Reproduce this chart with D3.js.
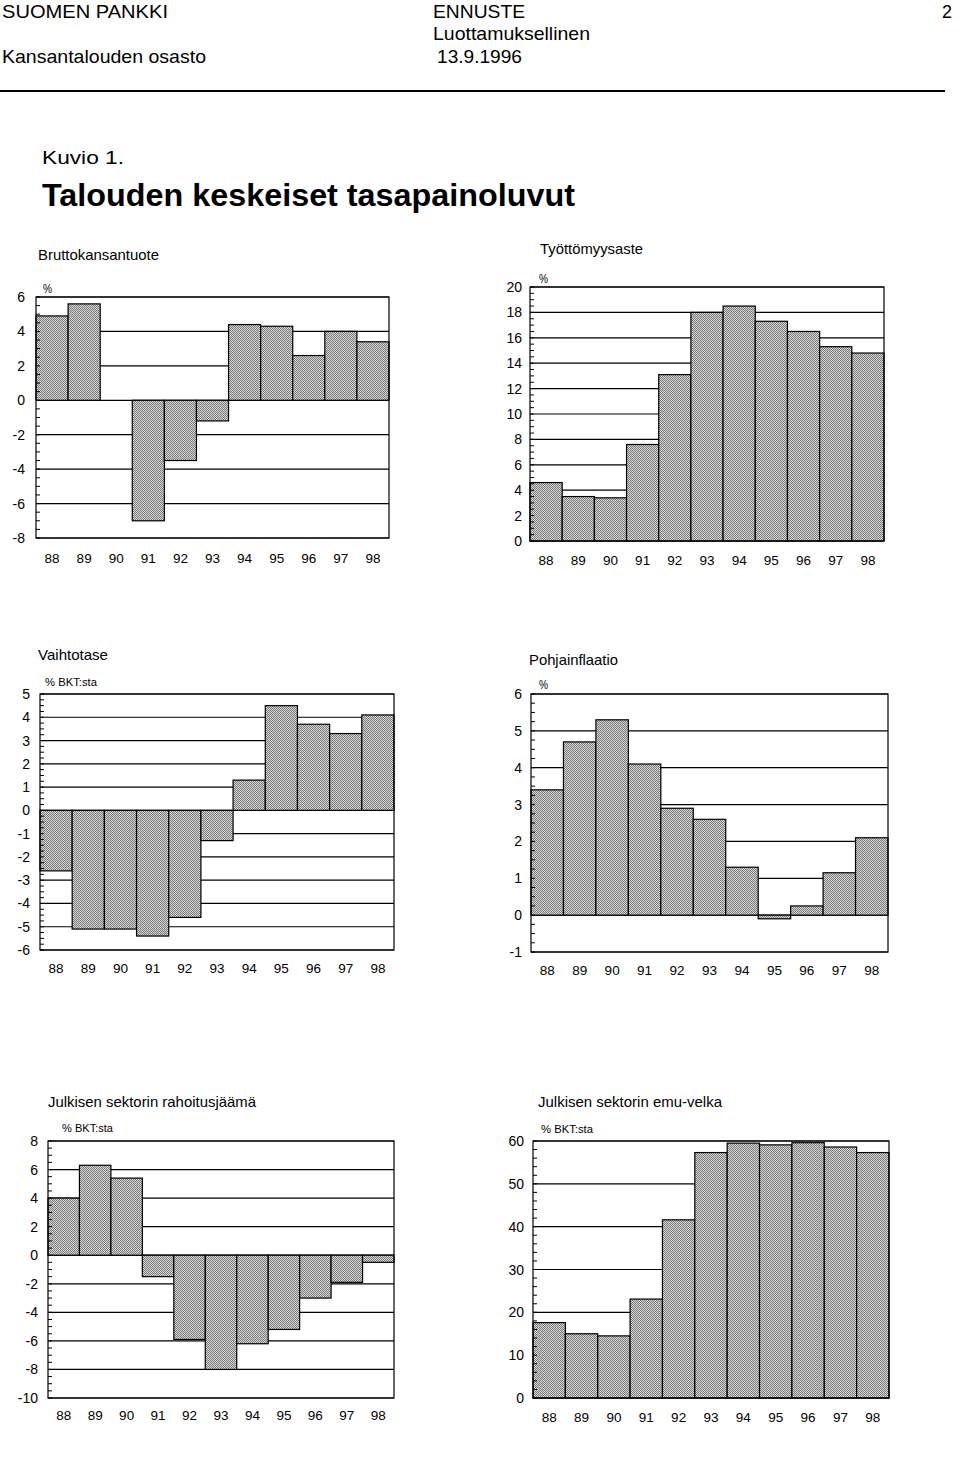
<!DOCTYPE html>
<html><head><meta charset="utf-8">
<script src="https://cdn.jsdelivr.net/npm/d3@7"></script>
<style>
body{margin:0;background:#fff;}
svg{display:block;font-family:"Liberation Sans",Arial,Helvetica,sans-serif;}
</style></head>
<body>
<script>
// ---- data ----
const years = ["88","89","90","91","92","93","94","95","96","97","98"];
const bktValues = [4.9, 5.6, 0.0, -7.0, -3.5, -1.2, 4.4, 4.3, 2.6, 4.0, 3.4];
const unemploymentValues = [4.6, 3.5, 3.4, 7.6, 13.1, 18.0, 18.5, 17.3, 16.5, 15.3, 14.8];
const currentAccountValues = [-2.6, -5.1, -5.1, -5.4, -4.6, -1.3, 1.3, 4.5, 3.7, 3.3, 4.1];
const inflationValues = [3.4, 4.7, 5.3, 4.1, 2.9, 2.6, 1.3, -0.1, 0.25, 1.15, 2.1];
const balanceValues = [4.0, 6.3, 5.4, -1.5, -5.9, -8.0, -6.2, -5.2, -3.0, -1.9, -0.5];
const debtValues = [17.6, 15.0, 14.5, 23.1, 41.6, 57.3, 59.5, 59.1, 59.6, 58.6, 57.3];

const bktTicks = [6, 4, 2, 0, -2, -4, -6, -8];
const unemploymentTicks = [20, 18, 16, 14, 12, 10, 8, 6, 4, 2, 0];
const currentAccountTicks = [5, 4, 3, 2, 1, 0, -1, -2, -3, -4, -5, -6];
const inflationTicks = [6, 5, 4, 3, 2, 1, 0, -1];
const balanceTicks = [8, 6, 4, 2, 0, -2, -4, -6, -8, -10];
const debtTicks = [60, 50, 40, 30, 20, 10, 0];

const headerTexts = ["SUOMEN PANKKI", "ENNUSTE", "2", "Luottamuksellinen", "Kansantalouden osasto", "13.9.1996"];
const figureLabel = "Kuvio 1.";
const figureTitle = "Talouden keskeiset tasapainoluvut";
const panelTitles = ["Bruttokansantuote", "Työttömyysaste", "Vaihtotase", "Pohjainflaatio",
  "Julkisen sektorin rahoitusjäämä", "Julkisen sektorin emu-velka"];
const unitLabels = ["%", "%", "% BKT:sta", "%", "% BKT:sta", "% BKT:sta"];

// ---- drawing ----
const W = 960, H = 1474;
const svg = d3.select("body").append("svg").attr("width", W).attr("height", H);

// halftone (checkerboard) pattern
const defs = svg.append("defs");
const pat = defs.append("pattern").attr("id", "tone").attr("patternUnits", "userSpaceOnUse")
  .attr("width", 2).attr("height", 2);
pat.append("rect").attr("width", 2).attr("height", 2).attr("fill", "#d6d6d6");
pat.append("rect").attr("width", 1).attr("height", 1).attr("fill", "#7a7a7a");
pat.append("rect").attr("x", 1).attr("y", 1).attr("width", 1).attr("height", 1).attr("fill", "#7a7a7a");

function txt(s, x, y, size, opts = {}) {
  const t = svg.append("text").attr("x", x).attr("y", y).attr("font-size", size)
    .attr("fill", "#000").text(s);
  if (opts.weight) t.attr("font-weight", opts.weight);
  if (opts.len) t.attr("textLength", opts.len).attr("lengthAdjust", "spacingAndGlyphs");
  if (opts.anchor) t.attr("text-anchor", opts.anchor);
  return t;
}

// header
txt(headerTexts[0], 2, 18, 19, {len: 166});
txt(headerTexts[1], 433, 18, 19, {len: 92});
txt(headerTexts[2], 942, 18, 19, {len: 10});
txt(headerTexts[3], 433, 40, 19, {len: 157});
txt(headerTexts[4], 2, 63, 19, {len: 204});
txt(headerTexts[5], 437, 63, 19, {len: 85});
svg.append("line").attr("x1", 0).attr("x2", 945).attr("y1", 91).attr("y2", 91)
  .attr("stroke", "#000").attr("stroke-width", 2);
txt(figureLabel, 42, 164, 17.5, {len: 82});
txt(figureTitle, 42, 206, 31, {weight: "bold", len: 533});

function panel(cfg) {
  const {left, right, top, bottom, domain, ticks, values, minorStep, title, unit,
         yLabelRight, xLabelY, titleX, titleY, titleLen, unitX, unitY, unitLen} = cfg;
  const g = svg.append("g");
  const x = d3.scaleBand().domain(years).range([left, right]).padding(0);
  const y = d3.scaleLinear().domain(domain).range([bottom, top]);

  // gridlines
  g.selectAll(".grid").data(ticks).join("line")
    .attr("x1", left).attr("x2", right)
    .attr("y1", d => y(d)).attr("y2", d => y(d))
    .attr("stroke", "#000").attr("stroke-width", 1.2);

  // bars
  g.selectAll(".bar").data(values).join("rect")
    .attr("x", (d, i) => x(years[i]))
    .attr("width", x.bandwidth())
    .attr("y", d => Math.min(y(d), y(0)))
    .attr("height", d => Math.abs(y(d) - y(0)))
    .attr("fill", "url(#tone)")
    .attr("stroke", "#000").attr("stroke-width", 1.2);

  // frame
  g.append("rect").attr("x", left).attr("y", top).attr("width", right - left)
    .attr("height", bottom - top).attr("fill", "none").attr("stroke", "#000").attr("stroke-width", 1.2);

  // minor ticks on left axis
  const minor = d3.range(domain[0], domain[1] + minorStep / 2, minorStep);
  g.selectAll(".minor").data(minor).join("line")
    .attr("x1", left).attr("x2", left + 4)
    .attr("y1", d => y(d)).attr("y2", d => y(d))
    .attr("stroke", "#000").attr("stroke-width", 1);

  // y labels
  g.selectAll(".yl").data(ticks).join("text")
    .attr("x", yLabelRight).attr("y", d => y(d)).attr("dy", "0.36em")
    .attr("text-anchor", "end").attr("font-size", 14).text(d => d);

  // x labels via axis
  const ax = d3.axisBottom(x).tickSize(0).tickPadding(0);
  const axg = g.append("g").attr("transform", `translate(0,${xLabelY})`).call(ax);
  axg.select(".domain").remove();
  axg.selectAll("text").attr("font-size", 13.5).attr("font-family", null).attr("dy", 0).attr("y", 0);

  txt(title, titleX, titleY, 15, {len: titleLen});
  txt(unit, unitX, unitY, unit === "%" ? 12 : 11.5, {len: unitLen});
}

panel({left: 36, right: 389, top: 297, bottom: 538, domain: [-8, 6], ticks: bktTicks,
  values: bktValues, minorStep: 0.5, title: panelTitles[0], unit: unitLabels[0],
  yLabelRight: 25, xLabelY: 563, titleX: 38, titleY: 260, titleLen: 121,
  unitX: 43, unitY: 293, unitLen: 9});

panel({left: 530, right: 884, top: 287, bottom: 541, domain: [0, 20], ticks: unemploymentTicks,
  values: unemploymentValues, minorStep: 0.5, title: panelTitles[1], unit: unitLabels[1],
  yLabelRight: 522, xLabelY: 565, titleX: 540, titleY: 254, titleLen: 103,
  unitX: 539, unitY: 283, unitLen: 9});

panel({left: 40, right: 394, top: 694, bottom: 950, domain: [-6, 5], ticks: currentAccountTicks,
  values: currentAccountValues, minorStep: 0.25, title: panelTitles[2], unit: unitLabels[2],
  yLabelRight: 30, xLabelY: 973, titleX: 38, titleY: 660, titleLen: 70,
  unitX: 45, unitY: 686, unitLen: 52});

panel({left: 531, right: 888, top: 694, bottom: 952, domain: [-1, 6], ticks: inflationTicks,
  values: inflationValues, minorStep: 0.25, title: panelTitles[3], unit: unitLabels[3],
  yLabelRight: 522, xLabelY: 975, titleX: 529, titleY: 665, titleLen: 89,
  unitX: 539, unitY: 689, unitLen: 9});

panel({left: 48, right: 394, top: 1141, bottom: 1398, domain: [-10, 8], ticks: balanceTicks,
  values: balanceValues, minorStep: 0.5, title: panelTitles[4], unit: unitLabels[4],
  yLabelRight: 38, xLabelY: 1420, titleX: 48, titleY: 1107, titleLen: 208,
  unitX: 62, unitY: 1132, unitLen: 51});

panel({left: 533, right: 889, top: 1141, bottom: 1398, domain: [0, 60], ticks: debtTicks,
  values: debtValues, minorStep: 2, title: panelTitles[5], unit: unitLabels[5],
  yLabelRight: 524, xLabelY: 1422, titleX: 538, titleY: 1107, titleLen: 184,
  unitX: 541, unitY: 1133, unitLen: 52});
</script>
</body></html>
